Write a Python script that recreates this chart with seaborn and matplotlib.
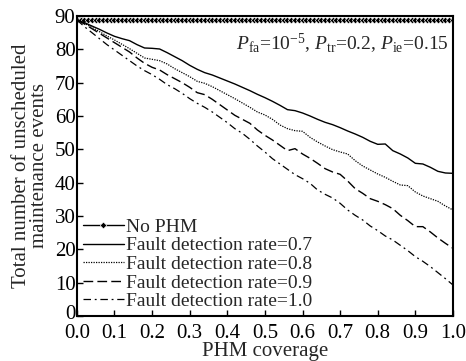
import numpy as np
import pandas as pd
import matplotlib
matplotlib.use("Agg")
import matplotlib.pyplot as plt
import matplotlib.transforms as mtransforms
import seaborn as sns

# ---------------- data ----------------
coverage = [round(i * 0.02, 2) for i in range(51)]
coverage_fine = [round(i * 0.01, 2) for i in range(101)]

no_phm = [88.8] * 101

fdr_07 = [88.8, 88.0, 87.0, 86.0, 84.9, 83.9, 83.2, 82.6, 81.4, 80.4,
          80.3, 80.1, 79.0, 77.8, 76.6, 75.2, 74.0, 73.0, 72.3, 71.4,
          70.5, 69.6, 68.6, 67.6, 66.5, 65.5, 64.4, 63.2, 61.9, 61.6,
          60.9, 60.0, 59.0, 58.1, 57.4, 56.5, 55.5, 54.6, 53.6, 52.4,
          51.5, 51.6, 49.6, 48.6, 47.4, 45.8, 45.6, 44.6, 43.4, 42.9,
          42.8]
fdr_08 = [88.8, 87.8, 86.6, 85.3, 84.0, 82.8, 81.5, 80.2, 78.8, 77.4,
          77.0, 76.6, 75.6, 74.2, 73.0, 71.8, 70.4, 69.8, 68.8, 67.6,
          66.4, 65.2, 63.9, 62.6, 61.2, 60.3, 59.0, 57.3, 56.2, 55.6,
          55.4, 53.6, 52.2, 51.0, 49.9, 49.2, 48.6, 46.6, 45.0, 43.8,
          42.6, 41.6, 40.4, 39.3, 39.1, 37.2, 36.0, 35.2, 34.4, 33.0,
          31.8]
fdr_09 = [88.8, 87.6, 86.2, 84.8, 83.4, 82.0, 80.6, 79.2, 77.4, 75.8,
          74.6, 73.8, 72.4, 71.2, 70.0, 68.6, 67.0, 66.4, 65.0, 63.4,
          61.8, 60.2, 59.0, 57.8, 55.8, 54.2, 52.8, 51.2, 49.6, 50.2,
          48.6, 47.3, 45.8, 44.2, 43.2, 42.5, 40.5, 38.2, 36.8, 35.2,
          34.4, 33.4, 32.2, 30.2, 28.6, 26.8, 26.8, 25.2, 23.4, 21.8,
          20.3]
fdr_10 = [88.8, 86.8, 85.0, 83.2, 81.4, 79.8, 78.2, 76.6, 75.0, 73.6,
          72.4, 71.0, 69.4, 68.2, 66.8, 65.2, 63.8, 62.6, 61.2, 59.6,
          58.0, 56.2, 54.8, 53.0, 51.0, 49.2, 47.2, 45.6, 44.0, 42.4,
          41.2, 39.8, 37.8, 36.5, 35.4, 33.8, 31.8, 30.2, 28.8, 27.0,
          25.6, 24.0, 22.8, 21.2, 19.6, 17.8, 16.4, 14.8, 13.0, 11.2,
          9.3]

labels = ["No PHM", "Fault detection rate=0.7", "Fault detection rate=0.8",
          "Fault detection rate=0.9", "Fault detection rate=1.0"]
x_ticks = [0.0, 0.1, 0.2, 0.3, 0.4, 0.5, 0.6, 0.7, 0.8, 0.9, 1.0]
y_ticks = [0, 10, 20, 30, 40, 50, 60, 70, 80, 90]

# ---------------- style ----------------
sns.set_style("ticks")
plt.rcParams["font.family"] = ["Liberation Serif", "DejaVu Serif"]
plt.rcParams["mathtext.fontset"] = "custom"
plt.rcParams["mathtext.rm"] = "Liberation Serif"
plt.rcParams["mathtext.it"] = "Liberation Serif:italic"
plt.rcParams["xtick.direction"] = "in"
plt.rcParams["ytick.direction"] = "in"

fig = plt.figure(figsize=(4.66, 3.61), dpi=100)
ax = fig.add_axes([0.165, 0.1247, 0.807, 0.831])

sns.lineplot(x=coverage_fine, y=no_phm, ax=ax, color="black", lw=1.0,
             marker="D", markersize=3.4, markeredgewidth=0.4,
             label=labels[0])
sns.lineplot(x=coverage, y=fdr_07, ax=ax, color="black", lw=1.0,
             linestyle="-", label=labels[1])
sns.lineplot(x=coverage, y=fdr_08, ax=ax, color="black", lw=0.9,
             linestyle=(0, (1, 1)), label=labels[2])
sns.lineplot(x=coverage, y=fdr_09, ax=ax, color="black", lw=1.0,
             linestyle=(0, (7, 3)), label=labels[3])
sns.lineplot(x=coverage, y=fdr_10, ax=ax, color="black", lw=0.9,
             linestyle=(0, (6, 3, 1.5, 3)), label=labels[4])

ax.set_xlim(0, 1.0)
ax.set_ylim(0, 90)
ax.set_xticks(x_ticks)
ax.set_xticklabels([f"{t:.1f}" for t in x_ticks])
ax.set_yticks(y_ticks)
ax.tick_params(axis="both", labelsize=15, length=4, width=1.0,
               top=False, right=False, colors="black")
ax.tick_params(axis="x", pad=6)
ax.tick_params(axis="y", pad=1)
for s in ax.spines.values():
    s.set_visible(True)
    s.set_linewidth(1.5)
    s.set_color("black")

# nudge the y "0" label up slightly so it does not collide with x "0.0"
ylab0 = ax.get_yticklabels()[0]
ylab0.set_transform(ylab0.get_transform() +
                    mtransforms.ScaledTranslation(0, 3 / 72, fig.dpi_scale_trans))

ax.set_xlabel("PHM coverage", fontsize=15, labelpad=-1)
ax.set_ylabel("Total number of unscheduled\nmaintenance events",
              fontsize=15, labelpad=4, linespacing=0.9)

ax.text(0.99, 0.905,
        r"$P_{\mathrm{fa}}$=10$^{-5}$, $P_{\mathrm{tr}}$=0.2, $P_{\mathrm{ie}}$=0.15",
        transform=ax.transAxes, ha="right", va="center", fontsize=14)

leg = ax.legend(loc="lower left", frameon=False, fontsize=14,
                handlelength=2.1, handletextpad=0.1, labelspacing=0.05,
                borderaxespad=0.0, borderpad=0.3, numpoints=1)

fig.savefig("out.png", dpi=100)
